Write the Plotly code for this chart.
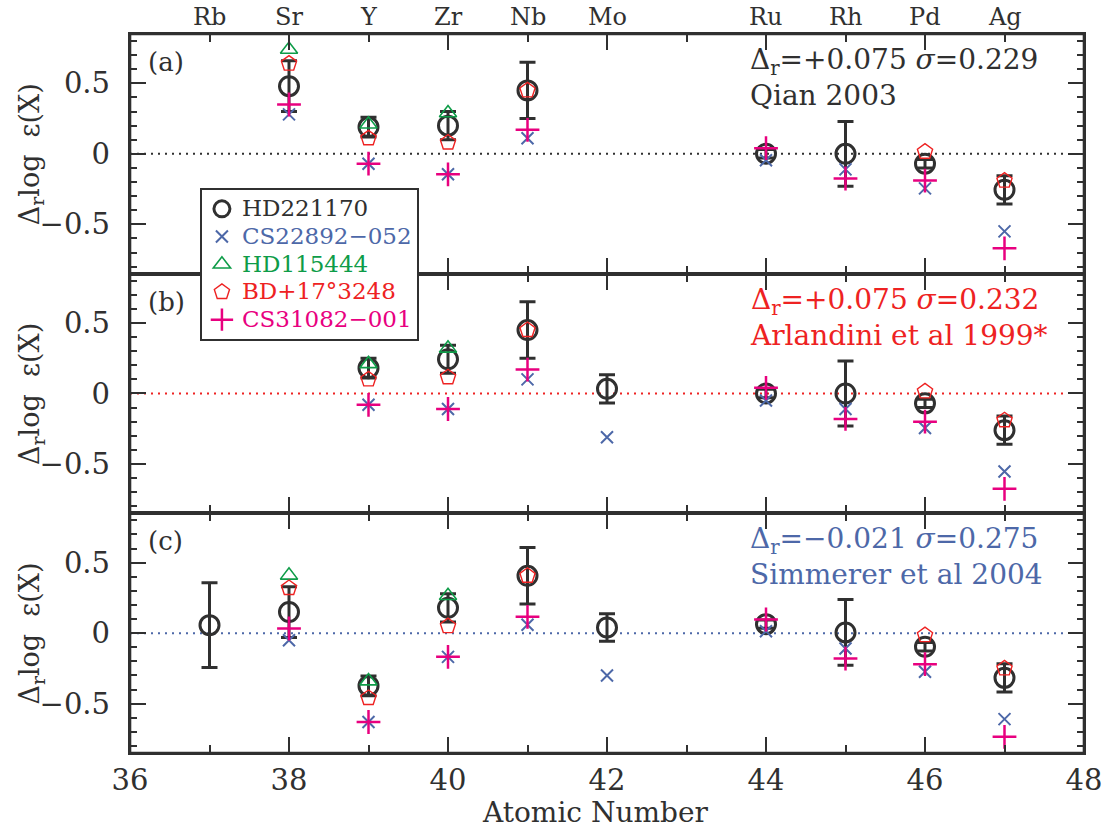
import plotly.graph_objects as go
from plotly.subplots import make_subplots

# ---- element labels along the top axis ----
element_names = ["Rb", "Sr", "Y", "Zr", "Nb", "Mo", "Ru", "Rh", "Pd", "Ag"]
element_z = [37, 38, 39, 40, 41, 42, 44, 45, 46, 47]

# ---- panel (a): Qian 2003 residual ----
a_hd221170_z = [38, 39, 40, 41, 44, 45, 46, 47]
a_hd221170 = [0.48, 0.19, 0.20, 0.45, 0.00, 0.00, -0.07, -0.255]
a_hd221170_err = [0.18, 0.07, 0.10, 0.20, 0.03, 0.23, 0.03, 0.10]
a_cs22892_z = [38, 39, 40, 41, 44, 45, 46, 47]
a_cs22892 = [0.28, -0.07, -0.145, 0.11, -0.045, -0.11, -0.245, -0.55]
a_hd115444_z = [38, 39, 40]
a_hd115444 = [0.74, 0.21, 0.29]
a_bd17_z = [38, 39, 40, 41, 46, 47]
a_bd17 = [0.64, 0.11, 0.08, 0.45, 0.015, -0.19]
a_cs31082_z = [38, 39, 40, 41, 44, 45, 46, 47]
a_cs31082 = [0.35, -0.07, -0.145, 0.17, 0.04, -0.175, -0.19, -0.67]

# ---- panel (b): Arlandini et al 1999 residual ----
b_hd221170_z = [39, 40, 41, 42, 44, 45, 46, 47]
b_hd221170 = [0.18, 0.243, 0.45, 0.033, 0.00, 0.00, -0.07, -0.26]
b_hd221170_err = [0.07, 0.10, 0.20, 0.10, 0.03, 0.23, 0.03, 0.10]
b_cs22892_z = [39, 40, 41, 42, 44, 45, 46, 47]
b_cs22892 = [-0.08, -0.11, 0.10, -0.31, -0.05, -0.11, -0.245, -0.553]
b_hd115444_z = [39, 40]
b_hd115444 = [0.21, 0.32]
b_bd17_z = [39, 40, 41, 46, 47]
b_bd17 = [0.10, 0.115, 0.45, 0.015, -0.19]
b_cs31082_z = [39, 40, 41, 44, 45, 46, 47]
b_cs31082 = [-0.08, -0.11, 0.17, 0.04, -0.18, -0.20, -0.676]

# ---- panel (c): Simmerer et al 2004 residual ----
c_hd221170_z = [37, 38, 39, 40, 41, 42, 44, 45, 46, 47]
c_hd221170 = [0.057, 0.15, -0.374, 0.18, 0.407, 0.04, 0.064, 0.005, -0.097, -0.317]
c_hd221170_err = [0.30, 0.18, 0.07, 0.10, 0.20, 0.097, 0.03, 0.233, 0.03, 0.10]
c_cs22892_z = [38, 39, 40, 41, 42, 44, 45, 46, 47]
c_cs22892 = [-0.05, -0.63, -0.168, 0.06, -0.30, 0.014, -0.109, -0.274, -0.61]
c_hd115444_z = [38, 39, 40]
c_hd115444 = [0.41, -0.34, 0.265]
c_bd17_z = [38, 39, 40, 41, 46, 47]
c_bd17 = [0.32, -0.46, 0.05, 0.407, -0.014, -0.25]
c_cs31082_z = [38, 39, 40, 41, 44, 45, 46, 47]
c_cs31082 = [0.033, -0.63, -0.168, 0.116, 0.097, -0.18, -0.22, -0.735]

panel_labels = ["(a)", "(b)", "(c)"]
panel_notes = [
    ("Δ<sub>r</sub>=+0.075 <i>σ</i>=0.229", "Qian 2003"),
    ("Δ<sub>r</sub>=+0.075 <i>σ</i>=0.232", "Arlandini et al 1999*"),
    ("Δ<sub>r</sub>=−0.021 <i>σ</i>=0.275", "Simmerer et al 2004"),
]

INK = "#303030"
BLUE = "#4d68a8"
GREEN = "#0e9c48"
RED = "#ee2222"
MAGENTA = "#e8007f"
note_colors = [INK, RED, BLUE]
FONT = "DejaVu Serif"

star_names = ["HD221170", "CS22892−052", "HD115444", "BD+17°3248", "CS31082−001"]
star_colors = [INK, BLUE, GREEN, RED, MAGENTA]
star_symbols = ["circle-open", "x-thin-open", "triangle-up-open", "pentagon-open", "cross-thin-open"]
star_sizes = [19, 12, 15, 16, 17]
star_lw = [3, 2, 1.6, 1.4, 2.5]

panel_data = [
    [(a_hd221170_z, a_hd221170, a_hd221170_err), (a_cs22892_z, a_cs22892, None),
     (a_hd115444_z, a_hd115444, None), (a_bd17_z, a_bd17, None), (a_cs31082_z, a_cs31082, None)],
    [(b_hd221170_z, b_hd221170, b_hd221170_err), (b_cs22892_z, b_cs22892, None),
     (b_hd115444_z, b_hd115444, None), (b_bd17_z, b_bd17, None), (b_cs31082_z, b_cs31082, None)],
    [(c_hd221170_z, c_hd221170, c_hd221170_err), (c_cs22892_z, c_cs22892, None),
     (c_hd115444_z, c_hd115444, None), (c_bd17_z, c_bd17, None), (c_cs31082_z, c_cs31082, None)],
]

fig = make_subplots(rows=3, cols=1, shared_xaxes=True, vertical_spacing=0)

for p, series in enumerate(panel_data):
    for s, (zs, vals, errs) in enumerate(series):
        tr = go.Scatter(
            x=zs, y=vals, mode="markers",
            name=f'<span style="color:{star_colors[s]};font-size:23px">{star_names[s]}</span>',
            legendgroup=star_names[s], showlegend=(p == 0),
            marker=dict(symbol=star_symbols[s], size=star_sizes[s], color=star_colors[s],
                        line=dict(width=star_lw[s], color=star_colors[s])),
        )
        if errs is not None:
            tr.error_y = dict(type="data", array=errs, visible=True, color=INK,
                              thickness=3, width=8)
        fig.add_trace(tr, row=p + 1, col=1)

    suffix = "" if p == 0 else str(p + 1)
    xdom = f"x{suffix} domain"
    ydom = f"y{suffix} domain"

    # dotted zero reference line
    fig.add_shape(type="line", xref=xdom, yref=f"y{suffix}", x0=0, x1=0.982, y0=0, y1=0,
                  line=dict(color=note_colors[p], width=2, dash="2px,5px"), layer="below")

    fig.add_annotation(text=panel_labels[p], xref=xdom, yref=ydom, x=0.0165, y=0.883,
                       xanchor="left", yanchor="middle", showarrow=False,
                       font=dict(family=FONT, size=26, color=INK))
    fig.add_annotation(text=panel_notes[p][0] + "<br>" + panel_notes[p][1],
                       xref=xdom, yref=ydom, x=0.6477, y=0.8185, xanchor="left",
                       yanchor="middle", align="left", showarrow=False,
                       font=dict(family=FONT, size=28, color=note_colors[p]))
    fig.add_annotation(text="Δ<sub>r</sub>log  ε(X)", xref="paper", yref=ydom,
                       x=-0.1033, y=0.5, xanchor="center", yanchor="middle",
                       textangle=-90, showarrow=False,
                       font=dict(family=FONT, size=27, color=INK))

# element symbols above the top panel
for name, z in zip(element_names, element_z):
    fig.add_annotation(text=name, x=z, xref="x", y=1, yref="y domain", yshift=17,
                       yanchor="middle", showarrow=False,
                       font=dict(family=FONT, size=24, color=INK))

fig.add_annotation(text="Atomic Number", xref="paper", yref="paper", x=0.4876, y=-0.0834,
                   xanchor="center", yanchor="middle", showarrow=False,
                   font=dict(family=FONT, size=28, color=INK))

# heavier outer frame around the stacked panels
fig.add_shape(type="rect", xref="paper", yref="paper", x0=0, x1=1, y0=0, y1=1,
              line=dict(color=INK, width=2.6), layer="above")

x_common = dict(showline=True, linewidth=1.8, linecolor=INK, mirror="ticks",
                ticks="inside", tickcolor=INK, tickwidth=1.8, showgrid=False,
                zeroline=False)
y_common = dict(showline=True, linewidth=2.4, linecolor=INK, mirror="ticks",
                ticks="inside", tickcolor=INK, tickwidth=1.8, showgrid=False,
                zeroline=False)
for r in range(1, 4):
    fig.update_xaxes(range=[36, 48], tickmode="linear", tick0=36, dtick=2, ticklen=16,
                     minor=dict(dtick=1, ticklen=8, ticks="inside", tickcolor=INK, tickwidth=1.8),
                     tickfont=dict(family=FONT, size=29, color=INK), ticklabelstandoff=0,
                     ticklabeloverflow="allow",
                     row=r, col=1, **x_common)
    fig.update_yaxes(range=[-0.85, 0.85], tickmode="linear", tick0=0, dtick=0.5, ticklen=16,
                     minor=dict(dtick=0.1, ticklen=7, ticks="inside", tickcolor=INK, tickwidth=1.8),
                     tickfont=dict(family=FONT, size=29, color=INK), ticklabelstandoff=12,
                     row=r, col=1, **y_common)

fig.update_layout(
    width=1114, height=832,
    margin=dict(l=130, r=16, t=34, b=79),
    paper_bgcolor="white", plot_bgcolor="white",
    showlegend=True,
    legend=dict(x=0.0733, y=0.7858, xanchor="left", yanchor="top",
                bgcolor="white", bordercolor=INK, borderwidth=2,
                font=dict(family=FONT, size=19, color=INK),
                tracegroupgap=0, itemsizing="trace"),
)

fig.write_html("out.html")
